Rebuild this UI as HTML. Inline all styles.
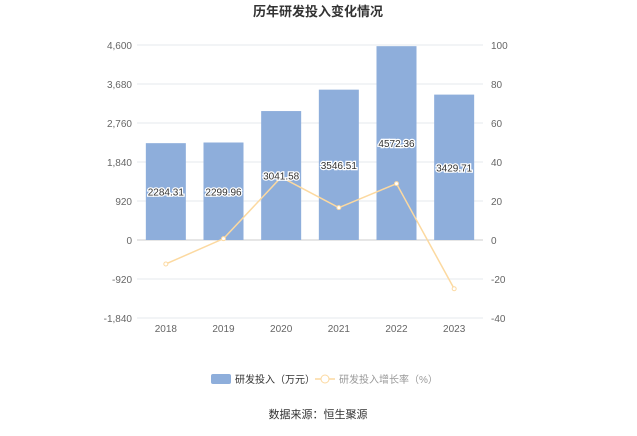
<!DOCTYPE html>
<html><head><meta charset="utf-8"><style>
body{margin:0;background:#fff;width:637px;height:431px;overflow:hidden;font-family:"Liberation Sans","Noto Sans CJK SC",sans-serif}
</style></head><body>
<svg width="637" height="431" font-family="Liberation Sans, Noto Sans CJK SC, sans-serif">
<text x="318" y="16" text-anchor="middle" font-size="13" font-weight="bold" fill="#333">历年研发投入变化情况</text>
<g id="grid"></g><g id="bars"></g><g id="line"></g><g id="labels"></g>
<g>
<rect x="211" y="374" width="20" height="10" rx="2" fill="#8eaedb"/>
<text x="235" y="383" font-size="10" fill="#333">研发投入（万元）</text>
<line x1="315" y1="379" x2="335" y2="379" stroke="#fcd9a0" stroke-width="1.5"/>
<circle cx="325" cy="379" r="4" fill="#fff" stroke="#fcd9a0"/>
<text x="339" y="383" font-size="10" fill="#999">研发投入增长率（%）</text>
</g>
<text x="318" y="418" text-anchor="middle" font-size="11" fill="#333">数据来源：恒生聚源</text>
</svg>
<script>
const categories=["2018","2019","2020","2021","2022","2023"];
const rdValues=[2284.31,2299.96,3041.58,3546.51,4572.36,3429.71];
const growthValues=[-12.3,0.68,32.2,16.6,28.9,-25.0];
const leftTicks=[-1840,-920,0,920,1840,2760,3680,4600];
const rightTicks=[-40,-20,0,20,40,60,80,100];
const NS="http://www.w3.org/2000/svg";
const x0=137,x1=483,yTop=45,yBot=318;
const yL=v=>yTop+(4600-v)/(4600+1840)*(yBot-yTop);
const yR=v=>yTop+(100-v)/140*(yBot-yTop);
const bw=(x1-x0)/categories.length;
const xc=i=>x0+bw*(i+0.5);
function mk(tag,attrs,parent,txt){const e=document.createElementNS(NS,tag);for(const k in attrs)e.setAttribute(k,attrs[k]);if(txt!==undefined)e.textContent=txt;document.getElementById(parent).appendChild(e);return e;}
leftTicks.forEach(t=>{
 const l=mk('line',{x1:x0,x2:x1,y1:yL(t),y2:yL(t),stroke:t===0?'#ccc':'#e6e8ee'},'grid');
 
 
 const tx=mk('text',{x:x0-5,y:yL(t)+4,'text-anchor':'end','font-size':'10',fill:'#666'},'grid',t.toLocaleString('en-US'));
 
 
});
rightTicks.forEach(t=>{
 const tx=mk('text',{x:x1+8,y:yR(t)+4,'font-size':'10',fill:'#666'},'grid',String(t));
 
 
});
categories.forEach((c,i)=>{
 const tx=mk('text',{x:xc(i),y:yBot+14,'text-anchor':'middle','font-size':'10',fill:'#666'},'grid',c);
 
 
 const v=rdValues[i];
 const r=mk('rect',{x:xc(i)-20,y:yL(v),width:40,height:yL(0)-yL(v),fill:'#8eaedb'},'bars');
 
 
});
const pts=growthValues.map((g,i)=>xc(i)+','+yR(g)).join(' ');
const pl=mk('polyline',{points:pts,fill:'none',stroke:'#fcd9a0','stroke-width':'1.5'},'line');


growthValues.forEach((g,i)=>{
 const p=mk('circle',{cx:xc(i),cy:yR(g),r:2,fill:'#fff',stroke:'#fcd9a0'},'line');
 
 
});
rdValues.forEach((v,i)=>{
 const y=(yL(v)+yL(0))/2+4;
 const t=mk('text',{x:xc(i),y:y,'text-anchor':'middle','font-size':'10',fill:'#333',stroke:'#fff','stroke-width':'2.5','paint-order':'stroke'},'labels',v.toFixed(2));
 
 
});
</script>
</body></html>
